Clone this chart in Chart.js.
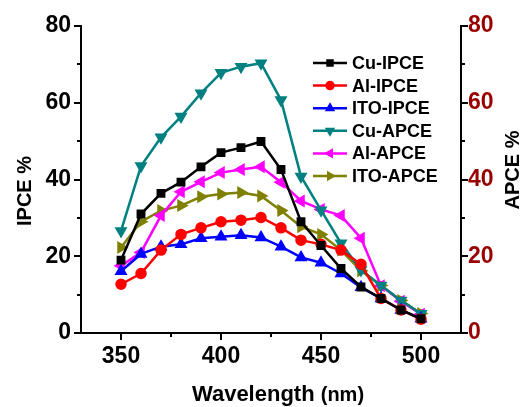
<!DOCTYPE html>
<html lang="en">
<head>
  <meta charset="UTF-8" />
  <title>IPCE / APCE</title>
  <script src="https://cdn.jsdelivr.net/npm/chart.js"></script>
  <style>
    html, body { margin: 0; padding: 0; background: #fff; }
    #wrap { width: 523px; height: 407px; }
  </style>
</head>
<body>
  <div id="wrap"><canvas id="ipceChart" width="523" height="407"></canvas></div>

  <script>
    // Wavelength (nm)
    const wavelengths = [350, 360, 370, 380, 390, 400, 410, 420, 430, 440, 450, 460, 470, 480, 490, 500];

    // IPCE % (left axis)
    const cuIPCE  = [19.0, 31.0, 36.4, 39.3, 43.3, 47.0, 48.3, 49.9, 42.6, 29.0, 22.8, 16.8, 12.0, 9.0, 6.0, 3.7];
    const alIPCE  = [12.7, 15.5, 21.6, 25.7, 27.4, 29.0, 29.4, 30.1, 27.4, 24.2, 23.1, 21.6, 17.9, 9.0, 6.0, 3.6];
    const itoIPCE = [16.1, 20.6, 22.5, 23.1, 24.7, 25.1, 25.5, 24.9, 22.5, 19.7, 18.3, 15.5, 11.9, 9.0, 6.0, 3.7];

    // APCE % (right axis)
    const cuAPCE  = [26.6, 43.5, 51.0, 56.4, 62.5, 67.8, 69.4, 70.3, 60.7, 40.8, 32.0, 23.4, 16.4, 12.4, 8.5, 5.0];
    const alAPCE  = [17.5, 21.0, 30.6, 36.8, 39.4, 41.8, 42.6, 43.3, 39.3, 34.4, 32.2, 30.6, 24.7, 12.3, 8.3, 4.9];
    const itoAPCE = [22.3, 29.0, 31.9, 33.2, 35.5, 36.2, 36.6, 35.7, 31.9, 27.7, 25.7, 21.6, 16.2, 12.4, 8.5, 5.1];

    // Axis ticks
    const xMajorTicks = [350, 400, 450, 500];
    const xMinorTicks = [375, 425, 475];
    const yMajorTicks = [0, 20, 40, 60, 80];
    const yMinorTicks = [10, 30, 50, 70];

    const FONT = 'Arial, "Liberation Sans", sans-serif';

    function serie(label, valores, color, estilo, rotacion, eje, radio) {
      return {
        label: label,
        data: wavelengths.map((w, i) => ({ x: w, y: valores[i] })),
        borderColor: color,
        backgroundColor: color,
        pointBackgroundColor: color,
        pointBorderColor: color,
        pointStyle: estilo,
        rotation: rotacion,
        pointRadius: radio,
        borderWidth: 2.5,
        tension: 0,
        yAxisID: eje
      };
    }

    const datasets = [
      serie('Cu-IPCE', cuIPCE, '#000000', 'rect', 0, 'y', 4.5),
      serie('Al-IPCE', alIPCE, '#ff0000', 'circle', 0, 'y', 4.5),
      serie('ITO-IPCE', itoIPCE, '#0000ff', 'triangle', 0, 'y', 5),
      serie('Cu-APCE', cuAPCE, '#008080', 'triangle', 180, 'y2', 5),
      serie('Al-APCE', alAPCE, '#ff00ff', 'triangle', -90, 'y2', 5),
      serie('ITO-APCE', itoAPCE, '#808000', 'triangle', 90, 'y2', 5)
    ];

    // Draw tick marks, axis titles and legend by hand
    const extras = {
      id: 'extras',
      afterDraw(chart) {
        const ctx = chart.ctx;
        const xs = chart.scales.x, ys = chart.scales.y;
        const area = chart.chartArea;
        ctx.save();
        ctx.strokeStyle = '#000';
        ctx.lineWidth = 2;

        // x ticks (outward)
        xMajorTicks.concat(xMinorTicks).forEach(v => {
          const px = Math.round(xs.getPixelForValue(v));
          const len = xMajorTicks.includes(v) ? 7 : 4;
          ctx.beginPath();
          ctx.moveTo(px, area.bottom);
          ctx.lineTo(px, area.bottom + len);
          ctx.stroke();
        });
        // y ticks left and right
        yMajorTicks.concat(yMinorTicks).forEach(v => {
          const py = Math.round(ys.getPixelForValue(v));
          const len = yMajorTicks.includes(v) ? 7 : 4;
          ctx.beginPath();
          ctx.moveTo(area.left, py);
          ctx.lineTo(area.left - len, py);
          ctx.moveTo(area.right, py);
          ctx.lineTo(area.right + len, py);
          ctx.stroke();
        });

        // axis titles
        ctx.fillStyle = '#000';
        ctx.textAlign = 'center';
        ctx.textBaseline = 'middle';
        ctx.font = 'bold 20px ' + FONT;
        ctx.save();
        ctx.translate(25, 191);
        ctx.rotate(-Math.PI / 2);
        ctx.fillText('IPCE %', 0, 0);
        ctx.restore();
        ctx.save();
        ctx.translate(513, 170);
        ctx.rotate(-Math.PI / 2);
        ctx.fillText('APCE %', 0, 0);
        ctx.restore();

        ctx.textBaseline = 'alphabetic';
        ctx.textAlign = 'left';
        const t1 = 'Wavelength ', t2 = '(nm)';
        ctx.font = 'bold 22px ' + FONT;
        const w1 = ctx.measureText(t1).width;
        ctx.font = 'bold 20px ' + FONT;
        const w2 = ctx.measureText(t2).width;
        let x0 = 278 - (w1 + w2) / 2;
        ctx.font = 'bold 22px ' + FONT;
        ctx.fillText(t1, x0, 401);
        ctx.font = 'bold 20px ' + FONT;
        ctx.fillText(t2, x0 + w1, 401);

        // legend
        ctx.font = 'bold 18px ' + FONT;
        ctx.textBaseline = 'middle';
        chart.data.datasets.forEach((ds, i) => {
          const y = 63 + i * 22.6;
          ctx.strokeStyle = ds.borderColor;
          ctx.lineWidth = 2.5;
          ctx.beginPath();
          ctx.moveTo(313, y);
          ctx.lineTo(347, y);
          ctx.stroke();
          ctx.fillStyle = ds.borderColor;
          if (Chart.helpers && Chart.helpers.drawPoint) {
            Chart.helpers.drawPoint(ctx, {
              pointStyle: ds.pointStyle,
              rotation: ds.rotation,
              radius: 3.5,
              borderWidth: 1
            }, 330, y);
          }
          ctx.fillStyle = '#000';
          ctx.fillText(ds.label, 352, y + 1);
        });
        ctx.restore();
      }
    };

    const ctx = document.getElementById('ipceChart').getContext('2d');
    const chart = new Chart(ctx, {
      type: 'line',
      data: { datasets: datasets },
      options: {
        responsive: false,
        animation: false,
        layout: { padding: { top: 26, left: 0, right: 0, bottom: 0 } },
        plugins: {
          legend: { display: false },
          tooltip: { enabled: false }
        },
        scales: {
          x: {
            type: 'linear',
            min: 330,
            max: 520,
            afterBuildTicks: s => { s.ticks = xMajorTicks.map(v => ({ value: v })); },
            afterFit: s => { s.height = 74; },
            ticks: {
              color: '#000',
              font: { family: FONT, size: 23, weight: 'bold' },
              padding: 10,
              maxRotation: 0
            },
            grid: { drawOnChartArea: false, drawTicks: false },
            border: { color: '#000', width: 2 }
          },
          y: {
            position: 'left',
            min: 0,
            max: 80,
            afterBuildTicks: s => { s.ticks = yMajorTicks.map(v => ({ value: v })); },
            afterFit: s => { s.width = 81; },
            ticks: {
              color: '#000',
              font: { family: FONT, size: 23, weight: 'bold' },
              padding: 10
            },
            grid: { drawOnChartArea: false, drawTicks: false },
            border: { color: '#000', width: 2 }
          },
          y2: {
            position: 'right',
            min: 0,
            max: 80,
            afterBuildTicks: s => { s.ticks = yMajorTicks.map(v => ({ value: v })); },
            afterFit: s => { s.width = 62; },
            ticks: {
              color: '#990000',
              font: { family: FONT, size: 23, weight: 'bold' },
              padding: 7
            },
            grid: { drawOnChartArea: false, drawTicks: false },
            border: { color: '#000', width: 2 }
          }
        }
      },
      plugins: [extras]
    });
  </script>
</body>
</html>
